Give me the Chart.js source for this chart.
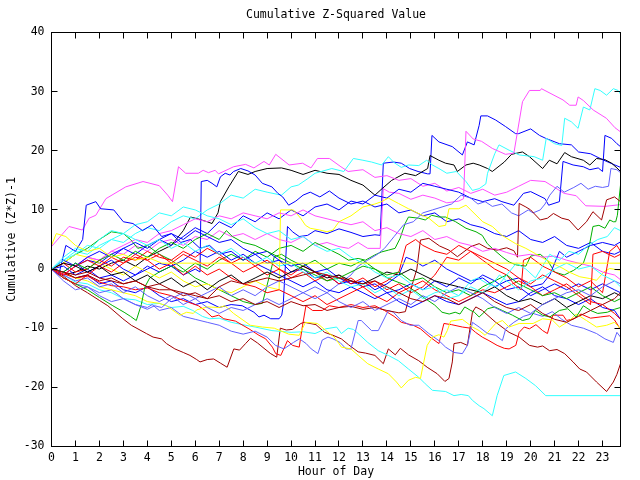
<!DOCTYPE html>
<html><head><meta charset="utf-8">
<script src="https://cdn.jsdelivr.net/npm/chart.js@4.4.1/dist/chart.umd.min.js"></script>
<style>html,body{margin:0;padding:0;background:#fff;}#wrap{width:640px;height:480px;}</style>
</head><body><div id="wrap"><canvas id="c" width="640" height="480"></canvas></div>
<script>
// ---- tick labels ----
const hourTicks = [0,1,2,3,4,5,6,7,8,9,10,11,12,13,14,15,16,17,18,19,20,21,22,23];
const valueTicks = [-30,-20,-10,0,10,20,30,40];

// ---- series: [hour, cumulative value] ----
const darkredLow = [[0,0],[0.5,-1.2],[1,-2.8],[1.5,-4],[2,-5.3],[2.35,-6.2],[2.98,-8.4],[3.33,-9.5],[3.96,-10.9],[4.24,-11.5],[4.59,-11.8],[4.8,-12.6],[5.15,-13.5],[5.5,-14.1],[5.78,-14.6],[6.06,-15.3],[6.2,-15.7],[6.5,-15.3],[6.77,-15.2],[7.05,-15.9],[7.33,-16.6],[7.61,-13.5],[7.85,-13.7],[8.1,-12.6],[8.31,-11.7],[8.6,-12.5],[8.87,-13.4],[9.15,-14.3],[9.4,-14.9],[9.55,-10],[9.8,-10.3],[10.06,-10.2],[10.41,-9.2],[10.55,-9],[11.04,-9.4],[11.4,-10.7],[11.75,-11.2],[12.1,-11.8],[12.4,-12.8],[12.8,-14],[13.1,-14.2],[13.5,-14.6],[13.85,-16],[14.06,-13.5],[14.35,-14.5],[14.56,-13.4],[14.9,-14.5],[15.33,-15.5],[15.68,-16.6],[16.1,-17.7],[16.42,-19],[16.59,-18.5],[16.73,-15.7],[16.8,-12.6],[17.08,-12.4],[17.36,-12.9],[17.57,-7.3],[17.71,-6.4],[17.98,-7],[18.54,-9],[19.1,-10.7],[19.52,-11.5],[19.95,-12.9],[20.29,-13.2],[20.5,-13],[20.79,-13.8],[21.1,-13.6],[21.42,-14.3],[21.77,-15.7],[22.05,-16.9],[22.33,-17.4],[22.75,-19.1],[23.17,-20.7],[23.45,-19.1],[23.6,-17.8],[23.75,-16]];
const darkredMid = [[0,0],[0.5,-0.5],[1,-1],[1.5,-0.5],[2,-1.5],[2.5,-2],[3,-2.5],[3.5,-2],[4,-3],[4.5,-3.5],[5,-3.5],[5.5,-4.5],[6,-4],[6.5,-5],[7,-4.5],[7.5,-5.5],[8,-5],[8.5,-6],[9,-5.5],[9.5,-6.5],[10,-5.5],[10.5,-6.2],[11,-6],[11.5,-7],[12,-6.5],[12.5,-6.3],[13,-6.8],[13.5,-6.5],[14,-7],[14.5,-7.4],[14.77,-7.2],[15.1,-2],[15.25,0],[15.4,4.9],[15.75,5.2],[16.2,3.9],[16.59,3.2],[16.94,2.1],[17.5,3.8],[17.85,4.3],[18.2,3.5],[18.6,3.2],[19,3.6],[19.3,3.1],[19.45,2],[19.52,11.1],[19.8,10.5],[20,10],[20.4,8.3],[20.7,8.6],[20.95,9.4],[21.3,8.6],[21.6,8.3],[21.98,6.6],[22.33,8],[22.6,9.7],[22.96,8.3],[23.17,11.7],[23.3,11.9],[23.5,12.2],[23.75,11.4]];
const darkredDrift = [[0,0],[0.5,-0.5],[1,-1.5],[1.5,-1],[2,-2],[2.5,-1.5],[3,-2.5],[3.5,-2],[4,-3],[4.5,-2.5],[5,-3.5],[5.5,-4],[6,-4.5],[6.5,-5],[7,-3],[7.5,-2],[8,-2.5],[8.5,-2],[9,-1.5],[9.5,-2],[10,-1.5],[10.5,-1],[11,-0.5],[11.5,-1],[12,-1.5],[12.5,-2],[13,-2.5],[13.5,-2],[14,-3],[14.5,-4],[15,-5],[15.5,-5.5],[16,-4.5],[16.5,-5],[17,-6],[17.5,-5],[18,-4],[18.5,-5.5],[19,-6.5],[19.5,-7],[20,-6],[20.5,-7.5],[21,-8.5],[21.5,-9],[22,-8],[22.5,-7],[23,-6],[23.5,-5],[23.75,-4]];
const cyanLow = [[0,0],[0.5,-1],[1,-2.2],[1.5,-2.5],[2,-3.5],[2.5,-4],[3,-5],[3.5,-5.2],[4,-6],[4.5,-5.8],[5,-6.5],[5.5,-6.3],[5.9,-7],[6.3,-8],[6.6,-8.4],[7,-8.3],[7.5,-9],[8.1,-9.5],[8.5,-9.8],[9.2,-10.4],[10,-10.7],[10.5,-10.6],[11,-10.9],[11.45,-10.1],[11.9,-9.8],[12.1,-10.9],[12.38,-10],[12.6,-10.2],[12.8,-10.9],[13.2,-12.4],[13.64,-13.8],[14.06,-14.6],[14.48,-15.5],[14.9,-16.9],[15.33,-18.3],[15.6,-19.4],[15.9,-20.5],[16.45,-20.7],[16.8,-21.4],[17.1,-21.2],[17.4,-21.4],[17.57,-22.2],[17.85,-23.1],[18.05,-23.6],[18.4,-24.8],[18.6,-21.4],[18.88,-18],[19.37,-17.4],[19.8,-18.5],[20.2,-19.7],[20.63,-21.4],[23.75,-21.4]];
const cyanTop = [[0,0],[0.5,1.5],[1,3],[1.5,2.5],[2,4],[2.5,5],[3,4.5],[3.5,6],[4,7],[4.5,6.5],[5,8],[5.5,9],[6,8.5],[6.5,10],[7,11],[7.5,12.5],[8,12],[8.5,13.5],[9,13],[9.6,12.5],[10,13.9],[10.3,14.2],[10.7,15.3],[11,16.2],[11.7,17],[12.2,16.5],[12.6,18.7],[13,18.4],[13.36,18.1],[13.78,17.6],[14.06,19],[14.3,18],[14.6,17.2],[14.9,17.6],[15.33,17.5],[15.66,18.4],[15.9,17.6],[16.17,17],[16.5,16.2],[16.9,16.5],[17.3,14.8],[17.57,13.3],[17.85,13.6],[18.13,14.4],[18.2,16.2],[18.5,19.5],[18.68,21],[19.1,20.1],[19.52,19.3],[20.15,19],[20.5,18.4],[20.65,22.1],[21,21.2],[21.3,20.9],[21.42,25.5],[21.7,24.9],[21.98,23.8],[22.2,27.4],[22.47,26.9],[22.68,30.5],[22.9,30.2],[23.17,29.4],[23.45,30.5],[23.65,30.2],[23.75,29.6]];
const cyanMid = [[0,0],[0.5,1.5],[1,2.5],[1.5,4],[2,3.5],[2.5,5],[3,6],[3.5,5],[4,4],[4.5,5],[5,3.5],[5.5,4.5],[6,3],[6.5,4],[7,2.5],[7.5,3.5],[8,2],[8.5,1],[9,2],[9.5,0.5],[10,1],[10.5,-0.5],[11,-1.5],[11.5,-0.5],[12,-2],[12.5,-3],[13,-2.5],[13.5,-4],[14,-3],[14.5,-4.5],[15,-3.5],[15.5,-5],[16,-4],[16.5,-3.5],[17,-4.5],[17.5,-2],[17.8,-1.5],[18.2,-2.5],[18.6,-3],[19,-1],[19.4,1],[19.8,0],[20.2,-1.5],[20.5,0.5],[20.8,2.5],[21.2,1.5],[21.6,3],[22,2.5],[22.4,4],[22.8,5],[23.2,5.5],[23.5,7],[23.75,6.5]];
const cyanEarly = [[0,0],[0.5,2],[1,3.5],[1.5,3],[2,5],[2.5,6.5],[3,6],[3.5,7.5],[4,8],[4.5,9.5],[5,9],[5.5,10.5],[6,10],[6.5,9],[7,8.5],[7.5,7.5],[8,8.5],[8.5,7],[9,6],[9.5,6.5],[10,5],[10.5,5.5],[11,4],[11.5,3],[12,3.5],[12.5,2],[13,1],[13.5,-0.5],[14,-1.5],[14.5,-1],[15,-2.5],[15.5,-3.5],[16,-3],[16.5,-5],[17,-4.5],[17.5,-3],[18,-4],[18.5,-2],[18.7,-1],[19,-2],[19.5,-3.5],[20,-2],[20.5,-1.5],[21,0],[21.5,1],[22,0],[22.5,0.5],[23,-1],[23.5,-2],[23.75,-3]];
const yellowLow = [[0,0],[0.5,-0.5],[1,-1.5],[1.5,-2],[2,-3],[2.5,-3.5],[3,-4],[3.5,-4.5],[4,-5.5],[4.5,-5.8],[4.8,-6.2],[5.36,-7.8],[5.64,-7.3],[5.92,-7.5],[6.06,-6.9],[6.5,-6.4],[7,-6.5],[7.24,-6.2],[7.6,-7.5],[8.3,-9.5],[8.8,-9.8],[9.3,-10],[9.9,-11],[10.34,-11.2],[10.6,-9],[11.1,-9.2],[11.45,-10.4],[11.8,-11.5],[12,-12.6],[12.1,-13.2],[12.5,-13.5],[12.8,-14.6],[13.2,-16],[13.64,-16.9],[14.06,-17.7],[14.4,-19.1],[14.6,-20.1],[14.9,-18.8],[15.2,-18.3],[15.4,-18.5],[15.54,-15.7],[15.68,-12.9],[15.9,-11.5],[16.17,-11.1],[16.38,-11.5],[16.52,-10.4],[16.66,-8.8],[17.15,-8.5],[17.57,-9.8],[17.85,-10.4],[18.1,-11.2],[18.54,-9.2],[18.82,-8.7],[19.1,-9.8],[19.52,-9.2],[20.1,-9.2],[20.5,-8.4],[20.9,-8.6],[21.2,-9.8],[21.63,-8.7],[21.9,-7.6],[22.33,-8.7],[22.75,-9.8],[23.17,-9.5],[23.5,-9],[23.75,-10.1]];
const yellowFlat = [[0,4],[0.2,6],[0.6,5.5],[1,4],[1.5,3],[2,3.5],[2.5,2],[3,2.5],[3.5,1.5],[4,2],[4.6,1],[23.75,1]];
const yellowMid = [[0,0],[0.5,1],[1,2.5],[1.5,2],[2,1],[2.5,0],[3,-1],[3.5,0.5],[4,-0.5],[4.5,-1.5],[5,-0.5],[5.5,-2],[6,-3],[6.5,-2.5],[7,-3.5],[7.5,-4],[8,-3],[8.5,-2],[9,-3],[9.5,-3.5],[9.56,10],[10.1,10],[10.4,8.6],[10.6,7.4],[10.8,6.9],[11.2,6.6],[11.5,6.3],[11.75,6.6],[12,8],[12.5,9],[13,10.5],[13.5,11],[13.78,11.4],[14.06,12],[14.48,11.1],[14.9,10.2],[15.47,9.1],[15.75,8.6],[16.17,7.2],[16.45,7.4],[16.59,10.2],[17,10.2],[17.3,10.8],[17.85,8.6],[18,8],[18.4,7.2],[18.8,5.7],[19.37,4.3],[19.8,3.5],[20.2,2.6],[20.8,1.2],[21.35,0.1],[21.6,-0.5],[22.05,-1.3],[22.47,-1.6],[22.75,-1.9],[23.05,-0.5],[23.3,0.1],[23.75,-0.2]];
const redLow = [[0,0],[0.5,-0.8],[1,-1.5],[1.5,-1.2],[2,-2.2],[2.5,-2.8],[3,-3],[3.5,-3.5],[4,-3.2],[4.5,-4],[5,-4.5],[5.5,-5.3],[6.13,-6.2],[6.41,-7],[6.7,-8.1],[6.98,-7.8],[7.19,-8.4],[7.68,-8.8],[8.24,-10.1],[8.66,-11.2],[8.94,-11.8],[9.22,-13.2],[9.36,-14.3],[9.57,-14.6],[9.85,-12.1],[10.06,-12.9],[10.34,-13.2],[10.48,-9.5],[10.62,-6.2],[10.9,-7],[11.3,-7],[11.6,-6.2],[12,-6.5],[12.5,-6],[13,-6.5],[13.5,-6.2],[13.9,-7],[14.3,-8],[14.6,-9],[15.1,-9.5],[15.4,-10.1],[15.8,-11.5],[16.17,-12.6],[16.38,-9.2],[16.7,-9.4],[17.15,-9.8],[17.5,-10],[17.7,-10.7],[17.98,-11.5],[18.26,-12.1],[18.6,-12.9],[18.9,-13.4],[19.1,-13.5],[19.38,-12.9],[19.52,-10.7],[19.73,-9.8],[19.95,-10.1],[20.22,-9.4],[20.5,-10.4],[20.7,-10.9],[20.85,-8.7],[20.93,-7.8],[21.35,-7.8],[21.5,-8.7],[21.8,-8.4],[22.1,-7.6],[22.5,-8.3],[22.9,-8.1],[23.3,-7.9],[23.5,-8.6],[23.75,-10.2]];
const redWave = [[0,0],[0.5,-1],[1,0.5],[1.5,1.5],[2,0.5],[2.5,2],[3,1],[3.5,2.5],[4,1.5],[4.5,0],[5,1],[5.5,2.5],[6,1.5],[6.5,0.5],[7,2],[7.5,1],[8,-0.5],[8.5,0.5],[9,-1],[9.5,0],[10,-1.5],[10.5,-0.5],[11,-2],[11.5,-1],[12,-2.5],[12.5,-1.5],[13,-3],[13.5,-2],[14,-3.5],[14.5,-2.5],[15,-4],[15.5,-3],[16,-1],[16.5,2],[17,1.5],[17.5,3],[18,2],[18.5,1],[19,0],[19.5,-1.5],[20,-2.5],[20.5,-1],[21,-2],[21.5,-3],[22,-4.5],[22.5,-6],[22.6,2.5],[23,3],[23.5,2],[23.75,2.5]];
const redJump = [[0,0],[0.5,1],[1,-0.5],[1.5,0],[2,1.5],[2.5,0.5],[3,2],[3.5,1.5],[4,3],[4.5,2],[5,1.5],[5.5,3],[6,2],[6.5,3.5],[7,2.5],[7.5,1],[8,2],[8.5,0.5],[9,1.5],[9.5,0],[10,-1],[10.5,0.5],[11,-0.5],[11.5,-2],[12,-1],[12.5,-2.5],[13,-1.5],[13.5,-3],[14,-2],[14.5,-0.5],[14.8,4],[15.2,5],[15.5,4],[16,3],[16.5,2.5],[17,4],[17.5,3],[18,1.5],[18.5,0],[19,-1],[19.3,-2.5],[19.6,-3.5],[19.7,1.5],[20,2],[20.5,0.5],[21,-0.5],[21.5,-1.5],[22,-3],[22.5,-2],[23,-4],[23.3,3],[23.6,4],[23.75,3]];
const redDown = [[0,0],[0.5,-1.5],[1,-2.5],[1.5,-1],[2,0.5],[2.5,-0.5],[3,1],[3.5,2],[4,1.5],[4.5,2.5],[5,1],[5.5,-1],[6,0.5],[6.5,-1],[7,0],[7.5,-1.5],[8,-2.5],[8.5,-3],[9,-4],[9.5,-3.5],[10,-4.5],[10.5,-5.5],[11,-4.5],[11.5,-6],[12,-5],[12.5,-4],[13,-3],[13.5,-4.5],[14,-5.5],[14.5,-4],[15,-3],[15.5,-2],[16,-3.5],[16.5,-4.5],[17,-5.5],[17.5,-4.5],[18,-3.5],[18.5,-4],[19,-3],[19.5,-2],[20,-3],[20.5,-4.5],[21,-3.5],[21.5,-2.5],[22,-4],[22.5,-5.5],[23,-6],[23.5,-7.5],[23.75,-8.5]];
const magentaHigh = [[0,3.8],[0.73,7.2],[1.29,6.6],[1.57,8.6],[1.85,9.1],[2.27,11.9],[3.1,13.9],[3.82,14.8],[4.5,14.1],[4.85,12.5],[5.05,11.4],[5.3,17.3],[5.6,16.2],[6.13,16.2],[6.33,16.7],[6.55,16.3],[6.83,16.7],[6.97,16.1],[7.6,17.3],[8.1,17.7],[8.45,17.1],[8.87,18.2],[9.09,17.6],[9.36,19.4],[9.92,17.6],[10.48,17.9],[10.83,17.1],[11.1,18.7],[11.6,18.7],[12.08,17.3],[12.38,16.5],[13,16.8],[13.5,15.5],[14,15.8],[14.5,15],[15,15.3],[15.5,14],[16,14.5],[16.5,13.2],[17,13.8],[17.5,12.8],[18,13.5],[18.5,12.5],[19,13],[19.5,14],[20,15],[20.6,14.8],[21.4,12.8],[21.9,12.4],[22.3,10.7],[23.1,10.6],[23.75,10.9]];
const magentaLate = [[0,0],[0.5,1],[1,0.5],[1.5,2],[2,1.5],[2.5,3],[3,2.5],[3.5,4],[4,3],[4.5,4.5],[5,5],[5.5,4],[6,5.5],[6.5,5],[7,6.5],[7.5,5.5],[8,6],[8.5,5],[9,6],[9.5,5],[10,4.5],[10.5,5.5],[11,4],[11.5,4.5],[12,3.8],[12.4,3.5],[12.8,4.5],[13.2,3.5],[13.72,3.5],[13.85,13.6],[14.1,13],[14.5,12.8],[15,11.8],[15.5,12.5],[16,12],[16.5,11.2],[17,11.5],[17.2,11.9],[17.3,23.3],[17.6,22],[17.95,21.6],[18.4,20.4],[18.95,19.4],[19.3,19.6],[19.66,28.3],[19.95,30.2],[20.4,30.2],[20.45,30.5],[21.35,28.6],[21.63,27.7],[21.9,27.7],[21.98,29.1],[22.2,28.5],[22.61,26.9],[23.16,25.5],[23.52,23.9],[23.75,23.2]];
const magentaMid = [[0,0],[0.5,-1],[1,0.5],[1.5,2],[2,1.5],[2.5,3],[3,4],[3.5,5],[4,4.5],[4.5,6],[5,6.5],[5.5,7.5],[6,8.5],[6.5,8],[7,9],[7.5,8.5],[8,9.5],[8.5,9],[9,8.5],[9.5,9.5],[10,9],[10.5,10],[11,9],[11.5,8.5],[12,8],[12.5,7.5],[13,8],[13.5,6.5],[14,7],[14.5,6],[15,5.5],[15.5,6.5],[16,5],[16.5,5.5],[17,4.5],[17.5,4],[18,3],[18.5,3.5],[19,2.8],[19.5,2.2],[20,2.5],[20.5,2],[21,2.2],[21.5,1.5],[22,1],[22.5,0.5],[23,-0.5],[23.5,-1],[23.75,-1.8]];
const blueTop = [[0,0],[0.5,-0.5],[1,-1.5],[1.5,-1],[2,-2.5],[2.5,-2],[3,-3.5],[3.5,-4],[4,-3],[4.5,-4.5],[5,-5.5],[5.5,-5],[6,-6],[6.5,-5.5],[7,-6.5],[7.5,-6],[7.96,-6.2],[8.45,-7.3],[8.66,-8.1],[8.87,-7.8],[9.15,-8.4],[9.5,-8.4],[9.61,-7.8],[9.67,-6.2],[9.85,7.2],[10.06,6.3],[10.34,5.5],[10.69,5.7],[11,6.5],[11.5,6],[12,6.8],[12.5,6.2],[13,5.5],[13.5,5.8],[13.72,5.7],[13.85,17.9],[14.27,18.1],[14.6,17.9],[14.95,17],[15.3,16.5],[15.7,16.1],[15.8,16.1],[15.88,22.6],[16.17,21.5],[16.73,20.7],[17.15,19.3],[17.36,21.5],[17.64,21],[17.85,24.3],[17.92,25.9],[18.2,25.9],[18.54,25.2],[18.95,24.1],[19.37,22.9],[19.5,22.9],[20,23.7],[20.37,22.6],[20.63,22.1],[21.2,21.2],[21.7,21],[22,19.8],[22.5,19.5],[23,18.5],[23.4,17.8],[23.75,17.2]];
const blueEarly = [[0,0],[0.5,0.5],[1,-1],[1.5,0],[2,-1.5],[2.5,-1],[3,-2],[3.5,-1],[4,0.5],[4.5,-0.5],[5,0.5],[5.5,-1],[6,0],[6.2,-0.5],[6.25,14.8],[6.5,15],[6.7,14.5],[6.9,13.9],[7.05,15.6],[7.25,16.2],[7.45,15.9],[7.6,16.5],[7.9,17],[8.2,16.6],[8.5,15.9],[8.8,14.5],[9.2,13.9],[9.45,12.8],[9.65,12.2],[9.9,10.8],[10.2,11.5],[10.5,12.5],[10.8,13],[11.2,12.2],[11.6,13.2],[12,12],[12.5,11],[13,11.5],[13.5,10.5],[14,11],[14.5,9.5],[15,10],[15.5,9],[16,9.5],[16.5,8],[17,8.5],[17.5,7.5],[18,7],[18.5,6],[19,5.5],[19.5,6.5],[20,5],[20.5,4.5],[21,5.5],[21.5,4],[22,3.5],[22.5,4.5],[23,3],[23.5,2.5],[23.75,3]];
const bluePeak = [[0,0],[0.3,-1],[0.6,4],[1,3],[1.3,5],[1.45,10.8],[1.85,11.4],[2.05,10.2],[2.6,10],[3,8],[3.4,7.7],[3.8,6.5],[4.2,7.5],[4.6,5.5],[5,6],[5.4,4.5],[5.8,5],[6.2,3.5],[6.6,4],[7,2.5],[7.5,3],[8,1.5],[8.5,2.5],[9,1],[9.5,1.5],[10,-0.5],[10.5,0],[11,-1.5],[11.5,-1],[12,-2.5],[12.5,-2],[13,-3],[13.5,-2.5],[14,-4],[14.5,-3.5],[15,-2.5],[15.5,-3.5],[16,-2],[16.5,-3],[17,-1.5],[17.5,-2.5],[18,-1],[18.5,-2],[19,-3.5],[19.5,-3],[20,-4.5],[20.5,-3.5],[21,-2.5],[21.5,-3.5],[22,-2.5],[22.5,-3.5],[23,-2.5],[23.5,-3.5],[23.75,-4]];
const blueLate = [[0,0],[0.5,-1],[1,0.5],[1.5,1.5],[2,1],[2.5,2.5],[3,3.5],[3.5,2.5],[4,4],[4.5,5],[5,4],[5.5,5.5],[6,7],[6.5,6],[7,8],[7.5,7],[8,9],[8.5,8],[9,9.5],[9.5,8.5],[10,10],[10.5,9],[11,10.5],[11.5,11],[12,10],[12.5,11.5],[13,11],[13.5,12.5],[14,12],[14.5,13.5],[15,13],[15.5,14.5],[16,14],[16.5,13.5],[17,13],[17.5,12],[18,11.4],[18.5,11.9],[18.8,11.4],[19.3,10.8],[19.7,12.8],[20,13.1],[20.6,11.9],[20.75,10.8],[21.2,11.4],[21.35,18.2],[21.77,17.6],[22.2,17.3],[22.47,16.8],[22.82,17.1],[23,16.5],[23.1,22.6],[23.38,22.1],[23.6,21.2],[23.75,20.7]];
const blueMid = [[0,0],[0.5,1.5],[1,0.5],[1.5,2],[2,3],[2.5,2],[3,3.5],[3.5,4.5],[4,3.5],[4.5,5],[5,6],[5.5,5],[6,6.5],[6.5,5.5],[7,4.5],[7.5,5],[8,3.5],[8.5,2.5],[9,3],[9.5,1.5],[10,0.5],[10.5,1],[11,-0.5],[11.5,0],[12,-1.5],[12.5,-2.5],[13,-2],[13.5,-3.5],[14,-2.5],[14.5,-1],[14.8,2],[15.1,1.5],[15.5,0.5],[16,1.5],[16.5,0],[17,-1],[17.5,-2],[18,-1.5],[18.5,-3],[19,-2],[19.5,-1.5],[20,-3],[20.5,-2.5],[20.8,-1],[21.2,3],[21.5,2],[22,3],[22.5,4],[23,4.5],[23.5,4],[23.75,4.6]];
const blueDown = [[0,0],[0.5,-0.5],[1,1],[1.5,-0.5],[2,0.5],[2.5,1.5],[3,0],[3.5,-1],[4,0],[4.5,1],[5,0.5],[5.5,1.5],[6,3],[6.5,2],[7,3],[7.5,1.5],[8,2.5],[8.5,1],[9,0],[9.5,-1],[10,-2],[10.5,-3],[11,-2],[11.5,-3.5],[12,-4],[12.5,-3],[13,-4],[13.5,-5],[14,-4],[14.5,-5.5],[15,-6.5],[15.5,-5.5],[16,-4.5],[16.5,-5.5],[17,-6],[17.5,-5],[18,-4],[18.5,-5],[19,-6],[19.5,-5.5],[20,-4],[20.5,-3],[21,-4.5],[21.5,-5],[22,-6],[22.5,-5],[23,-6.5],[23.5,-7],[23.75,-8.5]];
const lightblueLow = [[0,0],[0.5,-1.5],[1,-2.5],[1.5,-3],[2,-4],[2.5,-3.5],[3,-5],[3.5,-6],[4,-6.5],[4.2,-6],[4.5,-7],[5,-6.5],[5.5,-8],[6,-8.5],[6.5,-9],[7,-9.5],[7.5,-10.5],[8,-11],[8.5,-10.5],[9,-11.5],[9.35,-12.9],[9.7,-13.5],[10.1,-12.4],[10.35,-11.8],[10.63,-12.6],[10.84,-13.5],[11.12,-14.3],[11.3,-12],[11.54,-11.5],[11.75,-11.8],[12.04,-12.4],[12.3,-13.5],[12.5,-13.5],[12.8,-8.7],[12.93,-8.7],[13.36,-10.4],[13.64,-10.4],[14.06,-7],[14.27,-7.3],[14.6,-8.7],[14.97,-9.5],[15.33,-9.5],[15.75,-10.9],[16.17,-12.1],[16.45,-13.2],[16.8,-14.1],[17.15,-14.3],[17.36,-12.9],[17.57,-9],[17.85,-9.8],[18.2,-10.9],[18.54,-11.2],[18.82,-12.1],[18.96,-10.1],[19.3,-9],[19.7,-8],[20.1,-7.5],[20.5,-8],[20.9,-7.2],[21.3,-8.5],[21.7,-9.5],[22.2,-10],[22.75,-10.9],[23.1,-11.8],[23.45,-12.4],[23.6,-10.7],[23.75,-11.5]];
const lightblueRise = [[0,0],[0.5,-1],[1,-2],[1.5,-1.5],[2,-3],[2.5,-2.5],[3,-4],[3.5,-3],[4,-4.5],[4.5,-5.5],[5,-4.5],[5.5,-6],[6,-5],[6.5,-6.5],[7,-7.5],[7.5,-6.5],[8,-7],[8.5,-6],[9,-5],[9.5,-6],[10,-5],[10.5,-4],[11,-3],[11.5,-4],[12,-2.5],[12.5,-1],[12.8,0.5],[13.2,1.5],[13.6,2.5],[13.9,3.5],[14.3,5.5],[14.7,7.5],[15.1,8],[15.5,9.5],[15.9,10],[16.3,10.5],[16.7,11],[17.1,12.5],[17.5,12],[17.8,11],[18.1,11.4],[18.4,10.6],[18.8,11],[19.2,9.5],[19.5,9],[19.9,10],[20.1,9.5],[20.4,10],[20.6,11],[20.8,12.5],[21.1,14],[21.4,13],[21.8,13.8],[22.1,14.5],[22.4,13.5],[22.7,14],[23,13.8],[23.25,14],[23.35,17],[23.6,16.8],[23.75,16.3]];
const lightblueWander = [[0,0],[0.5,-2],[1,-3.5],[1.5,-3],[2,-4.5],[2.5,-5.5],[3,-5],[3.5,-6],[4,-6.8],[4.3,-6.2],[4.6,-6.5],[5,-5],[5.5,-4],[6,-5],[6.5,-4],[7,-3],[7.5,-4.5],[8,-3.5],[8.5,-4.5],[9,-3],[9.5,-2],[10,-3],[10.5,-4],[11,-5],[11.5,-4],[12,-5.5],[12.5,-6.5],[13,-5.5],[13.5,-7],[14,-6],[14.5,-5],[15,-6],[15.5,-4.5],[16,-5.5],[16.5,-4],[17,-3],[17.5,-4],[18,-5],[18.5,-6.5],[19,-7.5],[19.5,-6.5],[20,-7.5],[20.5,-6],[21,-5],[21.5,-4],[22,-3.5],[22.5,-4.5],[23,-3],[23.5,-2],[23.75,-2.5]];
const blackTop = [[0,0],[0.5,-1],[1,-0.5],[1.5,0.5],[2,0],[2.5,1],[3,1.5],[3.5,0.5],[4,2],[4.5,3],[5,4],[5.5,6.5],[5.8,8.8],[6.1,8.5],[6.5,8],[6.7,7.7],[6.95,9.5],[7.05,11.4],[7.4,13.9],[7.8,16.5],[8.2,16],[8.5,16.5],[9,17],[9.6,17.1],[10,16.7],[10.5,16],[11,16.7],[11.5,16.2],[12,16],[12.5,15],[13,14.2],[13.5,12.5],[13.8,13.6],[14.2,15],[14.75,16.2],[15.2,15.8],[15.7,17],[15.8,19.2],[16.17,18.4],[16.45,17.9],[16.8,17.6],[16.94,16.5],[17.3,17.6],[17.6,17.9],[17.85,17.6],[18.2,17],[18.4,16.5],[18.9,18.1],[19.2,19.4],[19.66,19.8],[19.95,19],[20.5,17],[20.78,18.4],[21.1,17.8],[21.42,19.7],[21.7,19],[22.2,18.4],[22.47,17.6],[22.75,18.7],[23.1,18.5],[23.38,17.9],[23.6,17.1],[23.75,16.5]];
const blackMid = [[0,0],[0.5,1],[1,0.5],[1.5,-0.5],[2,0.5],[2.5,-1],[3,-0.5],[3.5,-2],[4,-1],[4.5,-2.5],[5,-1.5],[5.5,-3],[6,-2],[6.5,-3.5],[7,-2],[7.5,-1],[8,-2.5],[8.5,-1.5],[9,-0.5],[9.5,-1.5],[10,-0.5],[10.5,0.5],[11,-0.5],[11.5,-1.5],[12,-1],[12.5,-2],[13,-2.5],[13.5,-1.5],[14,-0.5],[14.5,-1],[15,0],[15.5,-1],[16,-2],[16.5,-2.5],[17,-3],[17.5,-3.5],[18,-4],[18.5,-3],[19,-4.5],[19.5,-5.5],[20,-5],[20.5,-6],[21,-5],[21.5,-6.5],[22,-5.5],[22.5,-4.5],[23,-5],[23.5,-4],[23.75,-4.5]];
const greenRise = [[0,0],[0.5,-1.5],[1,-2.5],[1.5,-3.5],[2,-4.8],[2.56,-6.2],[3.03,-7.3],[3.3,-8],[3.54,-8.7],[3.75,-6],[3.9,-3],[4.1,-1.5],[4.5,-0.5],[5,0.5],[5.5,-0.5],[6,1],[6.5,0],[7,1.5],[7.5,2.5],[8,1.5],[8.5,3],[9,2],[9.5,3.5],[10,4],[10.5,3],[11,4.5],[11.5,3.5],[12,2.5],[12.4,1.5],[12.8,1.8],[13.1,1.5],[13.5,2.4],[13.78,2.9],[14.06,3.2],[14.34,3.5],[14.55,5.2],[14.76,7.7],[14.9,8.8],[15.33,8.6],[15.6,8.3],[15.87,9.1],[16.17,8.8],[16.45,8.8],[16.87,8],[17.3,6.9],[17.72,6.3],[17.98,5.7],[18.19,4.3],[18.4,3.5],[18.8,2.1],[19.1,1.2],[19.4,0.7],[19.8,0.5],[20,2.2],[20.4,2.5],[20.7,1.5],[21,-0.5],[21.4,-1],[21.8,-0.2],[22.2,1],[22.45,4],[22.6,7.2],[22.85,7.4],[23.1,6.9],[23.3,8.3],[23.45,8],[23.55,8],[23.62,9.1],[23.75,14.2]];
const greenLow = [[0,0],[0.5,1],[1,2.5],[1.5,3.5],[2,5],[2.5,6.3],[3,6],[3.3,5],[3.6,3.5],[4,4],[4.5,2.5],[5,1.5],[5.5,0],[6,-1.5],[6.5,-2.5],[7,-3.5],[7.5,-4.5],[8,-5.5],[8.5,-6],[8.8,-5.8],[9,-2.7],[9.3,2.1],[9.6,2.5],[10,1.5],[10.5,0.5],[11,1.5],[11.5,0],[12,1],[12.5,0.5],[13,1.5],[13.5,0],[14.06,-1.6],[14.77,-2.7],[15.2,-3.8],[15.6,-5],[16,-6.1],[16.3,-7.3],[16.6,-7.6],[16.85,-7.3],[17.05,-7.6],[17.25,-6.4],[17.5,-7],[17.65,-7.3],[17.85,-8.1],[18.06,-7.3],[18.2,-6.7],[18.5,-6.4],[18.82,-7],[19.24,-7.8],[19.66,-8.7],[19.95,-8.4],[20.2,-7],[20.5,-7.8],[20.8,-8.1],[21.2,-7],[21.55,-6.7],[21.9,-8.1],[22.2,-6.2],[22.5,-7],[22.8,-7.5],[23.2,-7.3],[23.5,-6.8],[23.75,-6.5]];
const greenMid = [[0,0],[0.5,-0.5],[1,1],[1.5,0],[2,1.5],[2.5,2.5],[3,1.5],[3.5,3],[4,2],[4.5,3.5],[5,4.5],[5.5,3.5],[6,5],[6.5,6],[7,5],[7.3,6.5],[7.55,5.5],[8,4.5],[8.5,4],[9,3],[9.5,2],[10,1],[10.5,0],[11,-1],[11.5,-2],[12,-1.5],[12.5,-0.5],[13,0.5],[13.5,0],[14,-1],[14.5,-0.5],[15,-2],[15.5,-1.5],[16,-3],[16.5,-4],[17,-3.5],[17.5,-4.5],[18,-3],[18.5,-2],[19,-1],[19.5,-2.5],[20,-3.5],[20.5,-4.5],[21,-4],[21.5,-5],[22,-4],[22.5,-3],[23,-4.5],[23.5,-5.5],[23.75,-5]];

const seriesData = [yellowFlat, darkredDrift, cyanEarly, cyanMid, lightblueWander, greenMid, blackMid, redWave, redDown, redJump, blueMid, blueDown, bluePeak, magentaMid, yellowMid, darkredMid, lightblueRise, greenLow, greenRise, blueEarly, blueLate, yellowLow, lightblueLow, redLow, cyanLow, darkredLow, magentaHigh, magentaLate, cyanTop, blackTop, blueTop];
const seriesColors = ['#ffff00','#a00000','#33ffff','#33ffff','#6060ff','#00b000','#000000','#ff0000','#ff0000','#ff0000','#0000ff','#0000ff','#0000ff','#ff4dff','#ffff00','#a00000','#6060ff','#00b000','#00b000','#0000ff','#0000ff','#ffff00','#6060ff','#ff0000','#33ffff','#a00000','#ff4dff','#ff4dff','#33ffff','#000000','#0000ff'];

const FONT = {family: "'DejaVu Sans Mono', 'Liberation Mono', monospace", size: 11.5, weight: 'normal'};

const framePlugin = {
  id: 'frame',
  afterDatasetsDraw(chart) {
    const {ctx, chartArea: a, scales: {x, y}} = chart;
    const T = 6;
    ctx.save();
    ctx.strokeStyle = '#000';
    ctx.lineWidth = 1;
    ctx.beginPath();
    hourTicks.forEach(v => {
      const px = Math.floor(x.getPixelForValue(v)) + 0.5;
      ctx.moveTo(px, a.bottom); ctx.lineTo(px, a.bottom - T);
      ctx.moveTo(px, a.top); ctx.lineTo(px, a.top + T);
    });
    valueTicks.forEach(v => {
      const py = Math.floor(y.getPixelForValue(v)) + 0.5;
      ctx.moveTo(a.left, py); ctx.lineTo(a.left + T, py);
      ctx.moveTo(a.right, py); ctx.lineTo(a.right - T, py);
    });
    ctx.stroke();
    ctx.strokeRect(a.left, a.top, a.right - a.left, a.bottom - a.top);
    ctx.restore();
  }
};

new Chart(document.getElementById('c'), {
  type: 'line',
  data: {
    datasets: seriesData.map((s, i) => ({
      data: s.map(p => ({x: p[0], y: p[1]})),
      borderColor: seriesColors[i],
      borderWidth: 1,
      pointRadius: 0,
      tension: 0,
      fill: false
    }))
  },
  options: {
    responsive: false,
    devicePixelRatio: 1,
    animation: false,
    layout: {padding: {left: 0, right: 19.5, top: 0, bottom: 0}},
    plugins: {
      legend: {display: false},
      tooltip: {enabled: false},
      title: {display: true, fullSize: false, text: 'Cumulative Z-Squared Value', color: '#000', font: FONT, padding: {top: 8, bottom: 10.7}}
    },
    scales: {
      x: {
        type: 'linear', min: 0, max: 23.75,
        afterBuildTicks: s => { s.ticks = hourTicks.map(v => ({value: v})); },
        afterFit: s => { s.height = 33.5; },
        grid: {display: false, drawTicks: false},
        border: {display: false},
        ticks: {color: '#000', font: FONT, padding: 5, maxRotation: 0, autoSkip: false, callback: v => String(v)},
        title: {display: true, text: 'Hour of Day', color: '#000', font: FONT, padding: {top: 0, bottom: 1}}
      },
      y: {
        type: 'linear', min: -30, max: 40,
        afterBuildTicks: s => { s.ticks = valueTicks.map(v => ({value: v})); },
        afterFit: s => { s.width = 51.5; },
        grid: {display: false, drawTicks: false},
        border: {display: false},
        ticks: {color: '#000', font: FONT, padding: 7, callback: v => String(v)},
        title: {display: true, text: 'Cumulative (Z*Z)-1', color: '#000', font: FONT, padding: {top: 5, bottom: 0}}
      }
    }
  },
  plugins: [framePlugin]
});
</script>
</body></html>
